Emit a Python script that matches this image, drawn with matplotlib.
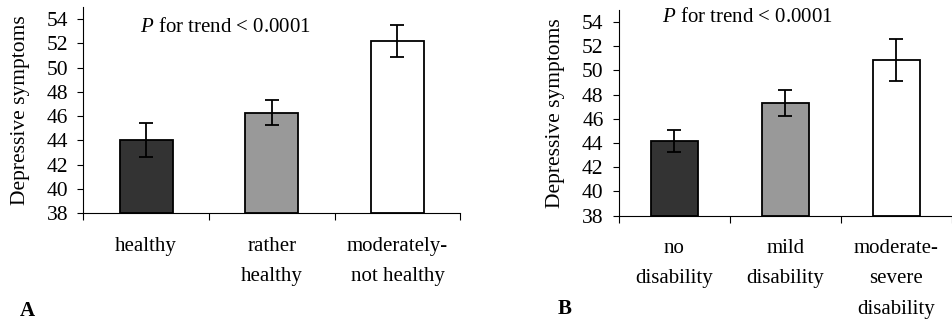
import matplotlib

matplotlib.use("Agg")
import matplotlib.pyplot as plt

plt.rcParams["font.family"] = ["Liberation Serif", "DejaVu Serif"]
plt.rcParams["mathtext.fontset"] = "custom"
plt.rcParams["mathtext.rm"] = "Liberation Serif"
plt.rcParams["mathtext.it"] = "Liberation Serif:italic"

# panel A: self-rated health
health_labels = ["healthy", "rather\nhealthy", "moderately-\nnot healthy"]
health_means = [44.0, 46.3, 52.2]
health_err = [1.4, 1.05, 1.3]

# panel B: disability
disab_labels = ["no\ndisability", "mild\ndisability", "moderate-\nsevere\ndisability"]
disab_means = [44.15, 47.3, 50.85]
disab_err = [0.9, 1.1, 1.75]

bar_colors = ["#333333", "#999999", "#ffffff"]
yticks = [38, 40, 42, 44, 46, 48, 50, 52, 54]


def draw_panel(ax, labels, means, err, ptext_xy, letter, letter_xy):
    x = range(len(means))
    ax.bar(x, [m - 38 for m in means], bottom=38, width=0.42, color=bar_colors,
           edgecolor="black", linewidth=1.3, zorder=2)
    ax.errorbar(x, means, yerr=err, fmt="none", ecolor="black", elinewidth=1.3,
                capsize=4.8, capthick=1.3, zorder=3)
    ax.set_ylim(38, 55)
    ax.set_xlim(-0.5, len(means) - 0.5)
    ax.set_yticks(yticks)
    ax.tick_params(axis="y", labelsize=15.5, length=4, width=0.8, pad=7)
    ax.set_xticks([i - 0.5 for i in range(len(means) + 1)])
    ax.set_xticklabels([])
    ax.tick_params(axis="x", which="major", length=5, width=0.8)
    ax.set_xticks(list(x), minor=True)
    ax.set_xticklabels(labels, minor=True, fontsize=15, linespacing=1.8)
    ax.tick_params(axis="x", which="minor", length=0, pad=17)
    for s in ("top", "right"):
        ax.spines[s].set_visible(False)
    ax.spines["left"].set_linewidth(0.8)
    ax.spines["bottom"].set_linewidth(0.8)
    ax.set_ylabel("Depressive symptoms", fontsize=15.5, labelpad=12)
    ax.text(ptext_xy[0], ptext_xy[1], r"$\mathit{P}$ for trend < 0.0001",
            transform=ax.transAxes, fontsize=15, va="center", ha="left")
    ax.figure.text(letter_xy[0], letter_xy[1], letter, fontsize=15,
                   fontweight="bold", ha="left", va="baseline")


fig = plt.figure(figsize=(9.52, 3.2), dpi=100)
ax_a = fig.add_axes([0.0875, 0.334, 0.396, 0.644])
ax_b = fig.add_axes([0.650, 0.326, 0.350, 0.643])

draw_panel(ax_a, health_labels, health_means, health_err, (0.151, 0.903), "A", (0.021, 0.014))
draw_panel(ax_b, disab_labels, disab_means, disab_err, (0.13, 0.965), "B", (0.586, 0.02))

fig.savefig("out.png", dpi=100)
